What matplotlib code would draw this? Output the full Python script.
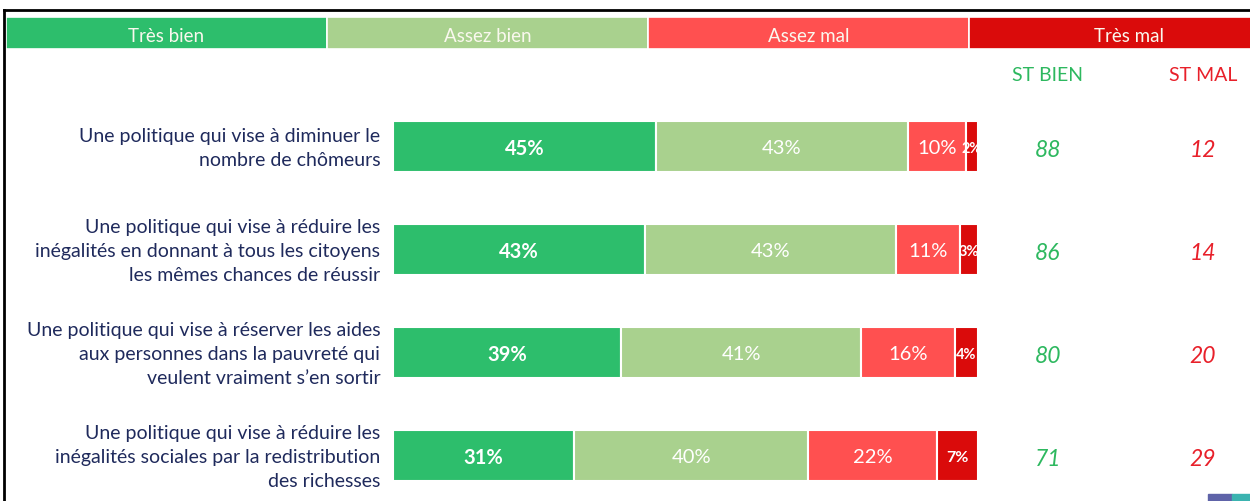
import matplotlib.pyplot as plt
from matplotlib.patches import Rectangle
from matplotlib.lines import Line2D

plt.rcParams['font.family'] = ['Lato', 'DejaVu Sans']

# Données
questions = [
    "Une politique qui vise à diminuer le\nnombre de chômeurs",
    "Une politique qui vise à réduire les\ninégalités en donnant à tous les citoyens\nles mêmes chances de réussir",
    "Une politique qui vise à réserver les aides\naux personnes dans la pauvreté qui\nveulent vraiment s\u2019en sortir",
    "Une politique qui vise à réduire les\ninégalités sociales par la redistribution\ndes richesses",
]
categories = ["Très bien", "Assez bien", "Assez mal", "Très mal"]
tres_bien = [45, 43, 39, 31]
assez_bien = [43, 43, 41, 40]
assez_mal = [10, 11, 16, 22]
tres_mal = [2, 3, 4, 7]
st_bien = [88, 86, 80, 71]
st_mal = [12, 14, 20, 29]

colors = ["#2DBE6C", "#A9D18E", "#FF5050", "#DA0B0B"]
navy = "#1F2A5C"
green_txt = "#2DB85F"
red_txt = "#E8202A"

W, H = 1250, 501
fig = plt.figure(figsize=(W / 100, H / 100), dpi=100)

# cadre noir (haut et gauche)
fig.add_artist(Line2D([4 / W, 1], [1 - 10 / H] * 2, color="black", lw=2))
fig.add_artist(Line2D([4 / W] * 2, [0, 1 - 10 / H], color="black", lw=2))

# bandeau de légende
hx0, seg_w = 6, 321
hax = fig.add_axes([hx0 / W, 1 - 49 / H, (W - hx0) / W, 32 / H])
hax.set_xlim(0, (W - hx0) / seg_w)
hax.set_ylim(0, 1)
hax.axis("off")
hax.bar(range(4), [1] * 4, width=1, align="edge", color=colors,
        edgecolor="white", linewidth=1.2)
for i, c in enumerate(categories):
    hax.text(i + 0.5, 0.4, c, ha="center", va="center", color="#FAF8EE",
             fontsize=13.5, clip_on=False)

# barres empilées
bx0, bx1 = 393, 978
top_px = 95
ax = fig.add_axes([bx0 / W, 0, (bx1 - bx0) / W, 1 - top_px / H])
ax.set_xlim(0, 100)
# centre de ligne i au pixel 146.5 + 103*i
y_top = -0.5
y_bot = y_top + (H - top_px) / 103
ax.set_ylim(y_bot, y_top)
ax.axis("off")

dy = 0.02  # léger décalage vertical du texte
series = [tres_bien, assez_bien, assez_mal, tres_mal]
ypos = list(range(len(questions)))
left = [0] * len(questions)
for k, vals in enumerate(series):
    ax.barh(ypos, vals, left=left, height=51 / 103, color=colors[k],
            edgecolor="white", linewidth=1.5)
    for i, v in enumerate(vals):
        cx = left[i] + v / 2
        if k == 3:
            fs = 11.5 if v >= 5 else 10.5
            ax.text(cx, i + dy, f"{v}%", ha="center", va="center",
                    color="white", fontsize=fs, fontweight="bold",
                    clip_on=False)
        else:
            ax.text(cx, i + dy, f"{v}%", ha="center", va="center",
                    color="white", fontsize=14.5,
                    fontweight="bold" if k == 0 else "normal")
    left = [l + v for l, v in zip(left, vals)]

# libellés des questions
for i, q in enumerate(questions):
    ax.text(-2.2, i + dy, q, ha="right", va="center", color=navy,
            fontsize=14, linespacing=1.5, clip_on=False)

# colonnes ST BIEN / ST MAL
x_bien = (1048 - bx0) / (bx1 - bx0) * 100
x_mal = (1203 - bx0) / (bx1 - bx0) * 100
y_head = -0.5 + (76 - top_px) / 103
ax.text(x_bien, y_head, "ST BIEN", ha="center", va="center", color=green_txt,
        fontsize=14, clip_on=False)
ax.text(x_mal, y_head, "ST MAL", ha="center", va="center", color=red_txt,
        fontsize=14, clip_on=False)
for i in ypos:
    ax.text(x_bien, i + 0.04, str(st_bien[i]), ha="center", va="center",
            color=green_txt, fontsize=16.5, style="italic", clip_on=False)
    ax.text(x_mal, i + 0.04, str(st_mal[i]), ha="center", va="center",
            color=red_txt, fontsize=16.5, style="italic", clip_on=False)

# petit bandeau décoratif en bas à droite
fig.add_artist(Rectangle((1208 / W, 0), 24 / W, 7 / H, color="#5E63A8",
                         transform=fig.transFigure))
fig.add_artist(Rectangle((1232 / W, 0), 18 / W, 7 / H, color="#3BB3B0",
                         transform=fig.transFigure))

fig.savefig("out.png", dpi=100, facecolor="white")
